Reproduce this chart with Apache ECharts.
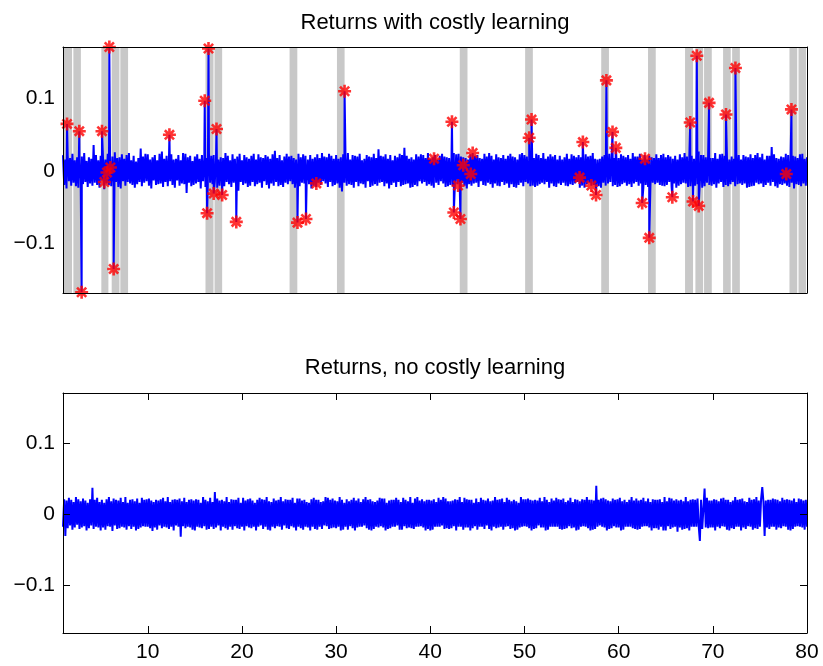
<!DOCTYPE html>
<html><head><meta charset="utf-8">
<script src="https://cdn.jsdelivr.net/npm/echarts@6/dist/echarts.min.js"></script>
<style>html,body{margin:0;padding:0;background:#fff}#c{width:823px;height:666px}</style>
</head><body><div id="c"></div>
<script>
const titles = ['Returns with costly learning', 'Returns, no costly learning'];
const xTicks = [10, 20, 30, 40, 50, 60, 70, 80];
const yTicks = [-0.1, 0, 0.1];
const xRange = [1, 80];
const yRange = [-0.168, 0.171];

// shaded (learning) periods in the top panel
const bandStart = [1.03, 2.1, 5.07, 6.17, 7.09, 16.13, 17.09, 25.06, 30.09, 43.13, 50.07, 58.15, 63.12, 67.05, 68.15, 69.07, 71.09, 72.05, 78.14, 79.1];
const bandEnd   = [1.96, 2.9, 5.82, 6.99, 7.91, 16.98, 17.9, 25.88, 30.9, 43.95, 50.89, 58.97, 63.94, 67.9, 68.97, 69.89, 71.9, 72.87, 78.96, 79.9];

// jump returns marked with stars (top panel)
const spikeX = [1.43, 2.73, 2.98, 5.14, 5.39, 5.67, 5.92, 6.03, 6.38, 12.3, 16.05, 16.3, 16.45, 17.0, 17.3, 17.9, 19.4, 25.9, 26.8, 27.9, 30.9, 40.4, 42.3, 42.5, 42.95, 43.2, 43.5, 44.3, 44.5, 50.5, 50.75, 55.85, 56.2, 57.1, 57.6, 58.7, 59.35, 59.7, 62.5, 62.8, 63.25, 65.7, 67.6, 67.9, 68.3, 68.5, 69.6, 71.4, 72.4, 77.8, 78.35];
const spikeY = [0.065, 0.055, -0.167, 0.055, -0.015, -0.002, 0.171, 0.005, -0.135, 0.050, 0.097, -0.058, 0.169, -0.031, 0.058, -0.033, -0.070, -0.071, -0.066, -0.017, 0.110, 0.017, 0.068, -0.057, -0.020, -0.066, 0.008, -0.004, 0.025, 0.046, 0.071, -0.009, 0.040, -0.020, -0.033, 0.125, 0.054, 0.032, -0.044, 0.017, -0.092, -0.036, 0.067, -0.042, 0.159, -0.048, 0.094, 0.078, 0.142, -0.004, 0.085];

// ordinary returns, in thousandths, observed every noiseStep from noiseStart
const noiseStart = 1, noiseStep = 0.125;
const topNoiseMilli = [
22,-19,16,-24,21,-14,18,-20, 24,-16,15,-21,19,-23,17,-13, 20,-18,25,-15,14,-22,19,-17, 17,-20,36,-16,22,-19,15,-23, 21,-13,18,-25,16,-17,24,-19,
14,-21,20,-16,26,-15,18,-22, 19,-24,23,-14,17,-20,22,-15, 25,-17,15,-19,21,-23,13,-18, 18,-15,31,-21,20,-16,24,-14, 23,-20,16,-24,19,-13,22,-19,
15,-18,24,-17,27,-22,17,-15, 21,-21,18,-14,23,-19,16,-23, 17,-13,22,-20,15,-17,25,-18, 24,-30,19,-16,21,-21,14,-19, 20,-17,23,-15,17,-24,22,-14,
16,-22,18,-19,24,-16,21,-18, 22,-14,20,-23,16,-20,19,-17, 18,-21,25,-15,21,-18,15,-22, 23,-16,17,-20,20,-27,24,-15, 15,-19,22,-17,19,-22,17,-20,
21,-15,24,-21,16,-18,23,-16, 19,-23,18,-14,22,-19,20,-24, 17,-17,23,-20,28,-15,18,-21, 22,-19,15,-22,20,-16,24,-18, 20,-14,21,-18,18,-23,16,-20,
24,-21,19,-16,23,-17,21,-15, 16,-18,22,-24,17,-20,19,-22, 23,-16,18,-19,25,-14,20,-17, 19,-22,24,-15,21,-21,17,-19, 22,-17,17,-23,19,-28,23,-16,
18,-20,25,-18,16,-19,22,-23, 21,-15,20,-21,24,-17,15,-18, 17,-23,22,-14,20,-22,19,-20, 24,-18,18,-20,30,-16,21,-15, 20,-21,23,-17,17,-24,22,-19,
15,-16,21,-22,19,-15,24,-21, 22,-19,32,-18,21,-17,17,-23, 19,-22,16,-19,23,-21,20,-14, 23,-17,22,-15,18,-20,25,-18, 17,-20,19,-23,22,-16,16,-19,
21,-14,24,-17,20,-22,19,-21, 18,-19,17,-21,25,-15,23,-18, 24,-21,20,-16,19,-20,18,-24, 16,-18,23,-20,22,-17,21,-16, 22,-22,18,-14,17,-19,24,-20,
20,-16,25,-18,21,-23,16,-17, 23,-20,19,-21,18,-15,22,-19, 17,-17,21,-23,24,-18,20,-22, 19,-23,16,-19,23,-16,25,-21, 22,-15,20,-17,17,-21,19,-20,
18,-22,24,-20,22,-18,18,-16, 25,-18,17,-15,20,-23,23,-17, 20,-21,22,-22,16,-17,21,-19, 16,-16,19,-20,24,-21,17,-18, 23,-19,21,-17,19,-15,22,-23,
19,-20,18,-23,23,-18,20,-16, 21,-17,25,-19,17,-22,16,-21, 17,-23,20,-16,22,-20,24,-17, 24,-15,19,-21,18,-19,21,-22, 18,-21,23,-18,21,-16,19,-20,
22,-18,17,-22,25,-17,20,-15, 20,-20,24,-17,16,-23,22,-19, 16,-22,21,-21,19,-16,18,-18, 23,-16,18,-19,22,-20,24,-21, 19,-19,22,-15,20,-22,17,-17,
21,-23,16,-20,23,-18,19,-16, 25,-17,20,-22,18,-21,21,-19, 17,-20,23,-18,27,-15,22,-23, 22,-21,19,-16,21,-19,18,-20, 18,-18,25,-23,17,-17,23,-15,
24,-22,21,-19,19,-21,16,-18, 20,-15,17,-21,24,-18,22,-17, 16,-19,22,-17,20,-23,19,-22, 23,-21,18,-20,22,-16,25,-18, 19,-17,24,-22,16,-19,21,-16,
21,-20,33,-15,23,-21,18,-23, 17,-18,20,-19,19,-17,24,-20, 22,-22,16,-16,21,-24,20,-18, 18,-19,23,-21,24,-17,17,-20, 19
];
const bottomNoiseMilli = [
-18,21,-31,19,-20,23,-16,20, -22,17,-19,24,-15,21,-21,18, -19,22,-17,19,-23,16,-20,21, -16,37,-21,20,-18,23,-19,17, -23,20,-19,16,-22,21,-17,24,
-18,18,-24,22,-16,20,-21,19, -20,23,-18,17,-19,24,-22,16, -17,20,-21,21,-18,18,-23,22, -21,16,-19,23,-17,20,-18,21, -18,22,-20,19,-24,17,-19,20,
-22,19,-16,21,-20,23,-18,18, -19,24,-21,17,-18,20,-23,21, -16,20,-18,22,-32,18,-17,23, -20,17,-18,20,-19,21,-22,19, -23,21,-18,20,-19,16,-20,24,
-17,20,-22,18,-21,23,-18,17, -21,31,-19,22,-16,19,-23,20, -18,18,-20,24,-22,17,-18,21, -22,20,-17,20,-20,23,-21,16, -18,23,-23,19,-17,21,-19,22,
-20,19,-18,16,-23,20,-18,23, -16,21,-21,20,-18,24,-22,18, -23,17,-18,22,-20,19,-17,20, -18,24,-22,18,-16,21,-20,20, -21,20,-17,23,-19,16,-23,22,
-18,22,-20,19,-22,20,-18,17, -19,16,-23,21,-18,23,-21,20, -22,20,-18,17,-21,18,-16,24, -17,23,-21,20,-20,22,-19,19, -20,18,-18,24,-23,20,-22,16,
-18,21,-22,18,-17,20,-20,23, -23,19,-19,22,-18,17,-18,21, -16,24,-20,20,-22,21,-23,18, -21,17,-18,19,-19,23,-17,22, -19,22,-23,16,-21,19,-20,20,
-18,20,-18,23,-16,20,-22,17, -22,23,-17,20,-20,18,-19,24, -20,16,-21,22,-18,24,-18,19, -17,21,-19,18,-23,20,-21,20, -23,19,-22,21,-18,17,-18,23,
-18,20,-16,24,-21,22,-20,18, -21,18,-20,19,-17,21,-23,20, -18,24,-18,17,-22,23,-19,21, -19,20,-23,20,-20,16,-17,22, -22,17,-18,23,-18,20,-21,19,
-16,22,-21,18,-23,19,-18,24, -20,20,-19,21,-18,22,-22,17, -18,23,-17,20,-21,18,-20,20, -23,18,-22,16,-19,24,-18,21, -17,21,-18,22,-20,20,-23,19,
-21,20,-20,19,-16,23,-19,18, -19,24,-23,20,-22,17,-18,22, -18,19,-18,23,-18,21,-21,20, -22,22,-21,17,-20,19,-17,23, -20,17,-19,21,-23,20,-22,18,
-18,21,-17,20,-18,24,-20,20, -23,20,-22,19,-21,40,-18,20, -16,22,-18,23,-19,21,-23,19, -21,18,-20,22,-17,20,-19,21, -19,23,-23,18,-22,20,-18,17,
-18,20,-18,24,-20,19,-21,22, -22,19,-21,20,-18,23,-17,18, -17,22,-19,17,-23,21,-20,20, -20,20,-22,21,-18,17,-23,24, -23,18,-17,23,-21,22,-19,19,
-18,21,-25,19,-19,20,-22,18, -21,24,-20,18,-23,20,-18,21, -18,20,-18,22,-17,-38,20,-21, -22,36,-19,23,-20,19,-19,19, -19,21,-23,20,-18,18,-20,22,
-17,23,-18,20,-22,20,-23,17, -20,19,-21,24,-18,20,-18,21, -23,22,-19,18,-21,17,-17,23, -18,20,-22,21,-20,24,-21,19, -18,21,38,17,-31,19,-19,20,
-21,20,-18,22,-18,21,-22,20, -19,18,-20,23,-17,20,-18,21, -22,20,-23,19,-21,22,-18,17, -17,22,-18,21,-19,19,-22,20, -18
];

const FONT = '"Liberation Sans", Arial, Helvetica, sans-serif';

function noisePoints(arr) {
  return arr.map((v, i) => [noiseStart + i * noiseStep, v / 1000]);
}
const spikes = spikeX.map((x, i) => [x, spikeY[i]]);
const topLine = noisePoints(topNoiseMilli).concat(spikes).sort((a, b) => a[0] - b[0]);
const bottomLine = noisePoints(bottomNoiseMilli);

const starPath = 'path://M-10,-2L10,-2L10,2L-10,2Z' +
  'M-2,-10L2,-10L2,10L-2,10Z' +
  'M-5.66,-8.49L8.49,5.66L5.66,8.49L-8.49,-5.66Z' +
  'M-8.49,5.66L5.66,-8.49L8.49,-5.66L-5.66,8.49Z';

const black = { color: '#000', width: 1 };
function xAx(grid, pos, ticks, labels) {
  return {
    gridIndex: grid, type: 'value', position: pos, min: xRange[0], max: xRange[1], z: 10,
    axisLine: { show: true, onZero: false, lineStyle: black },
    axisTick: ticks ? { show: true, inside: true, length: 7, customValues: xTicks, lineStyle: black } : { show: false },
    axisLabel: labels ? { show: true, customValues: xTicks, margin: 9, color: '#000', fontSize: 21, fontFamily: FONT } : { show: false },
    splitLine: { show: false }
  };
}
function yAx(grid, pos, ticks, labels) {
  return {
    gridIndex: grid, type: 'value', position: pos, min: yRange[0], max: yRange[1], z: 10,
    axisLine: { show: true, onZero: false, lineStyle: black },
    axisTick: ticks ? { show: true, inside: true, length: 7, customValues: yTicks, lineStyle: black } : { show: false },
    axisLabel: labels ? { show: true, customValues: yTicks, margin: 8, color: '#000', fontSize: 21, fontFamily: FONT,
      formatter: v => (v < 0 ? '\u2212' : '') + Math.abs(v) } : { show: false },
    splitLine: { show: false }
  };
}

const chart = echarts.init(document.getElementById('c'), null, { renderer: 'canvas' });
chart.setOption({
  animation: false,
  backgroundColor: '#fff',
  title: [
    { text: titles[0], left: 435, top: 12, textAlign: 'center', padding: 0,
      textStyle: { fontSize: 22, fontWeight: 'normal', color: '#000', fontFamily: FONT } },
    { text: titles[1], left: 435, top: 357, textAlign: 'center', padding: 0,
      textStyle: { fontSize: 22, fontWeight: 'normal', color: '#000', fontFamily: FONT } }
  ],
  grid: [
    { left: 63, top: 47, width: 744, height: 246 },
    { left: 63, top: 393, width: 744, height: 240 }
  ],
  xAxis: [xAx(0, 'bottom', false, false), xAx(0, 'top', false, false), xAx(1, 'bottom', true, true), xAx(1, 'top', true, false)],
  yAxis: [yAx(0, 'left', false, true), yAx(0, 'right', false, false), yAx(1, 'left', true, true), yAx(1, 'right', true, false)],
  series: [
    {
      type: 'line', xAxisIndex: 0, yAxisIndex: 0, data: topLine, symbol: 'none', showSymbol: false,
      sampling: null, lineStyle: { color: '#0000ff', width: 2 }, z: 2,
      markArea: { silent: true, itemStyle: { color: '#c8c8c8', opacity: 1 }, label: { show: false },
        data: bandStart.map((s, i) => [{ xAxis: s }, { xAxis: bandEnd[i] }]) }
    },
    {
      type: 'scatter', xAxisIndex: 0, yAxisIndex: 0, data: spikes, symbol: starPath, symbolSize: 13,
      itemStyle: { color: '#ff0000' }, z: 4, clip: false
    },
    {
      type: 'line', xAxisIndex: 2, yAxisIndex: 2, data: bottomLine, symbol: 'none', showSymbol: false,
      sampling: null, lineStyle: { color: '#0000ff', width: 2 }, z: 2
    }
  ]
});
</script>
</body></html>
